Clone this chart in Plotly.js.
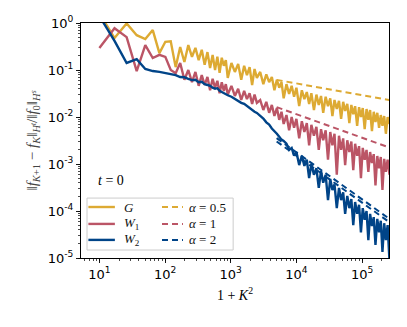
<!DOCTYPE html>
<html>
<head>
<meta charset="utf-8">
<script src="https://cdn.plot.ly/plotly-3.0.1.min.js"></script>
<style>
html, body {margin: 0; padding: 0; background: #fff;}
#chart {width: 407px; height: 327px;}
</style>
</head>
<body>
<div id="chart"></div>
<script>
// truncation level K (sampled), x = 1 + K^2
const K = [3, 4, 5, 6, 7, 8, 9, 10, 11, 12, 13, 14, 15, 16, 17, 18, 19, 20, 21, 22, 23, 24, 25, 26, 27, 28, 29, 30,
    32, 34, 36, 38, 40, 42, 44, 46, 48, 50,
    53, 56, 59, 62, 65, 68, 71, 74, 77, 80,
    84, 88, 92, 96, 100, 105, 110, 115, 120, 125, 130, 136, 142, 148, 154, 160, 167, 174, 181, 188, 195,
    203, 211, 219, 227, 235, 244, 253, 262, 271, 280, 290, 300, 310, 320, 331, 342, 353, 364, 376, 388, 400, 413, 426, 439, 452, 466, 480, 495, 512];

const errG = [1.62, 0.479, 0.98, 0.55, 0.457, 0.708, 0.229, 0.398, 0.41, 0.115, 0.309, 0.148, 0.339, 0.191, 0.295, 0.162, 0.269, 0.129, 0.240, 0.110, 0.209, 0.100, 0.191, 0.087, 0.182, 0.123, 0.162, 0.068,
    0.141, 0.091, 0.135, 0.062, 0.123, 0.078, 0.115, 0.048, 0.105, 0.068,
    0.091, 0.050, 0.081, 0.055, 0.071, 0.037, 0.062, 0.042, 0.055, 0.025,
    0.050, 0.031, 0.046, 0.027, 0.042, 0.017, 0.037, 0.024, 0.034, 0.019, 0.032, 0.014, 0.030, 0.018, 0.028, 0.0123, 0.027, 0.017, 0.025, 0.0105, 0.023,
    0.0148, 0.022, 0.0091, 0.021, 0.0135, 0.019, 0.0074, 0.018, 0.0115, 0.017, 0.0065, 0.0162, 0.0100, 0.0155, 0.0055, 0.0148, 0.0087, 0.0141, 0.0050, 0.0129, 0.0078, 0.0123, 0.0059, 0.0110, 0.0065, 0.0105, 0.0044, 0.0100, 0.0071];

const errW1 = [0.295, 0.776, 0.50, 0.095, 0.339, 0.18, 0.21, 0.19, 0.10, 0.085, 0.141, 0.062, 0.100, 0.055, 0.091, 0.046, 0.078, 0.048, 0.071, 0.037, 0.065, 0.042, 0.059, 0.032, 0.055, 0.036, 0.050, 0.030,
    0.046, 0.028, 0.040, 0.023, 0.036, 0.024, 0.032, 0.019, 0.030, 0.020,
    0.023, 0.0141, 0.021, 0.0123, 0.018, 0.0105, 0.0155, 0.0087, 0.0129, 0.0071,
    0.011, 0.0052, 0.0100, 0.0059, 0.0091, 0.0035, 0.0081, 0.0048, 0.0074, 0.0025, 0.0068, 0.0040, 0.0062, 0.0020, 0.0055, 0.0032, 0.0052, 0.00123, 0.0048, 0.0025, 0.0044,
    0.00059, 0.0040, 0.0020, 0.0035, 0.00095, 0.0032, 0.0018, 0.0030, 0.00074, 0.0027, 0.0015, 0.0024, 0.00050, 0.0022, 0.00123, 0.0020, 0.00068, 0.0018, 0.00105, 0.00162, 0.00035, 0.00148, 0.00081, 0.00141, 0.00028, 0.00129, 0.00068, 0.00123, 0.00059];

const errW2 = [1.41, 0.417, 0.141, 0.170, 0.105, 0.095, 0.091, 0.087, 0.082, 0.078, 0.071, 0.070, 0.065, 0.061, 0.062, 0.055, 0.056, 0.050, 0.048, 0.046, 0.042, 0.040, 0.041, 0.036, 0.034, 0.032, 0.030, 0.029,
    0.027, 0.024, 0.022, 0.020, 0.019, 0.017, 0.0155, 0.0141, 0.0129, 0.0122,
    0.0105, 0.0093, 0.0077, 0.0069, 0.0057, 0.0051, 0.0044, 0.0038, 0.0033, 0.0031,
    0.0027, 0.0020, 0.0022, 0.0015, 0.0018, 0.00095, 0.0015, 0.00091, 0.00123, 0.00050, 0.00100, 0.00059, 0.00081, 0.00031, 0.00071, 0.00040, 0.00059, 0.00017, 0.00048, 0.00028, 0.00037,
    0.000115, 0.00031, 0.00017, 0.00025, 0.000087, 0.00021, 0.000115, 0.00018, 0.000050, 0.000155, 0.000087, 0.000135, 0.000035, 0.000115, 0.000065, 0.000100, 0.000024, 0.000087, 0.000048, 0.000074, 0.000019, 0.000068, 0.000035, 0.000062, 0.0000135, 0.000055, 0.000024, 0.000050, 0.0000081];

// reference slopes K^-alpha
const refX = [5000, 262145];
const refHalf = [0.0617, 0.0229];
const refOne = [0.0162, 0.00224];
const refTwoA = [0.00355, 0.0000676];
const refTwoB = [0.00302, 0.0000575];

const seriesNames = ["<i>G</i>", "<i>W</i><sub>1</sub>", "<i>W</i><sub>2</sub>"];
const refNames = ["<i>α</i> = 0.5", "<i>α</i> = 1", "<i>α</i> = 2"];

const xVals = K.map(k => 1 + k * k);

const COLORS = ["#DDAA33", "#BB5566", "#004488"];
const serif = "Liberation Serif, DejaVu Serif, serif";
const DASH = "6px,4px";

const traces = [
    {x: xVals, y: errG, mode: "lines", line: {color: COLORS[0], width: 2.4}},
    {x: xVals, y: errW1, mode: "lines", line: {color: COLORS[1], width: 2.4}},
    {x: xVals, y: errW2, mode: "lines", line: {color: COLORS[2], width: 2.4}},
    {x: refX, y: refHalf, mode: "lines", line: {color: COLORS[0], width: 2, dash: DASH}},
    {x: refX, y: refOne, mode: "lines", line: {color: COLORS[1], width: 2, dash: DASH}},
    {x: refX, y: refTwoA, mode: "lines", line: {color: COLORS[2], width: 2, dash: DASH}},
    {x: refX, y: refTwoB, mode: "lines", line: {color: COLORS[2], width: 2, dash: DASH}}
];

// legend drawn by hand: two columns inside one box
const rowY = [0.217, 0.145, 0.077];
const shapes = [{
    type: "rect", xref: "paper", yref: "paper",
    x0: 0.0195, x1: 0.494, y0: 0.034, y1: 0.255,
    line: {color: "#cccccc", width: 1}, fillcolor: "rgba(255,255,255,0.8)", layer: "below"
}];
const annotations = [{
    xref: "paper", yref: "paper", x: 0.05, y: 0.33, xanchor: "left", yanchor: "middle",
    text: "<i>t</i> = 0", showarrow: false, font: {family: serif, size: 14, color: "#000"}
}];
rowY.forEach((y, i) => {
    shapes.push({type: "line", xref: "paper", yref: "paper", x0: 0.024, x1: 0.110, y0: y, y1: y,
        line: {color: COLORS[i], width: 2.4}});
    shapes.push({type: "line", xref: "paper", yref: "paper", x0: 0.263, x1: 0.331, y0: y, y1: y,
        line: {color: COLORS[i], width: 2, dash: DASH}});
    annotations.push({xref: "paper", yref: "paper", x: 0.133, y: y, xanchor: "left", yanchor: "middle",
        text: seriesNames[i], showarrow: false, font: {family: serif, size: 13, color: "#111"}});
    annotations.push({xref: "paper", yref: "paper", x: 0.344, y: y, xanchor: "left", yanchor: "middle",
        text: refNames[i], showarrow: false, font: {family: serif, size: 13, color: "#111"}});
});

const decadesX = [10, 100, 1000, 10000, 100000];
const decadesY = [1e-5, 1e-4, 1e-3, 1e-2, 1e-1, 1];

const layout = {
    width: 407, height: 327,
    margin: {l: 81, r: 18, t: 23, b: 69},
    paper_bgcolor: "#fff", plot_bgcolor: "#fff",
    font: {family: "DejaVu Sans, sans-serif", size: 13, color: "#000"},
    showlegend: false,
    xaxis: {
        type: "log", range: [0.72, 5.41],
        tickmode: "array", tickvals: decadesX,
        ticktext: ["10<sup>1</sup>", "10<sup>2</sup>", "10<sup>3</sup>", "10<sup>4</sup>", "10<sup>5</sup>"],
        ticks: "outside", ticklen: 4, tickwidth: 0.9, tickcolor: "#000",
        minor: {ticks: "outside", ticklen: 2, tickwidth: 0.7, tickcolor: "#000", dtick: "D1", showgrid: false},
        showline: true, linecolor: "#000", linewidth: 1, mirror: true,
        showgrid: false, zeroline: false,
        title: {text: "1 + <i>K</i><sup>2</sup>", font: {family: serif, size: 14}, standoff: 9}
    },
    yaxis: {
        type: "log", range: [-5, 0],
        tickmode: "array", tickvals: decadesY,
        ticktext: ["10<sup>-5</sup>", "10<sup>-4</sup>", "10<sup>-3</sup>", "10<sup>-2</sup>", "10<sup>-1</sup>", "10<sup>0</sup>"],
        ticks: "outside", ticklen: 4, tickwidth: 0.9, tickcolor: "#000",
        minor: {ticks: "outside", ticklen: 2, tickwidth: 0.7, tickcolor: "#000", dtick: "D1", showgrid: false},
        showline: true, linecolor: "#000", linewidth: 1, mirror: true,
        showgrid: false, zeroline: false,
        title: {
            text: "‖<i>f</i><sub><i>K</i>+1</sub> − <i>f</i><sub><i>K</i></sub>‖<sub><i>H<sup>t</sup></i></sub>/‖<i>f</i><sub>0</sub>‖<sub><i>H<sup>s</sup></i></sub>",
            font: {family: serif, size: 15, color: "#444"}, standoff: 6
        }
    },
    shapes: shapes,
    annotations: annotations
};

Plotly.newPlot("chart", traces, layout, {staticPlot: true, displayModeBar: false});
</script>
</body>
</html>
